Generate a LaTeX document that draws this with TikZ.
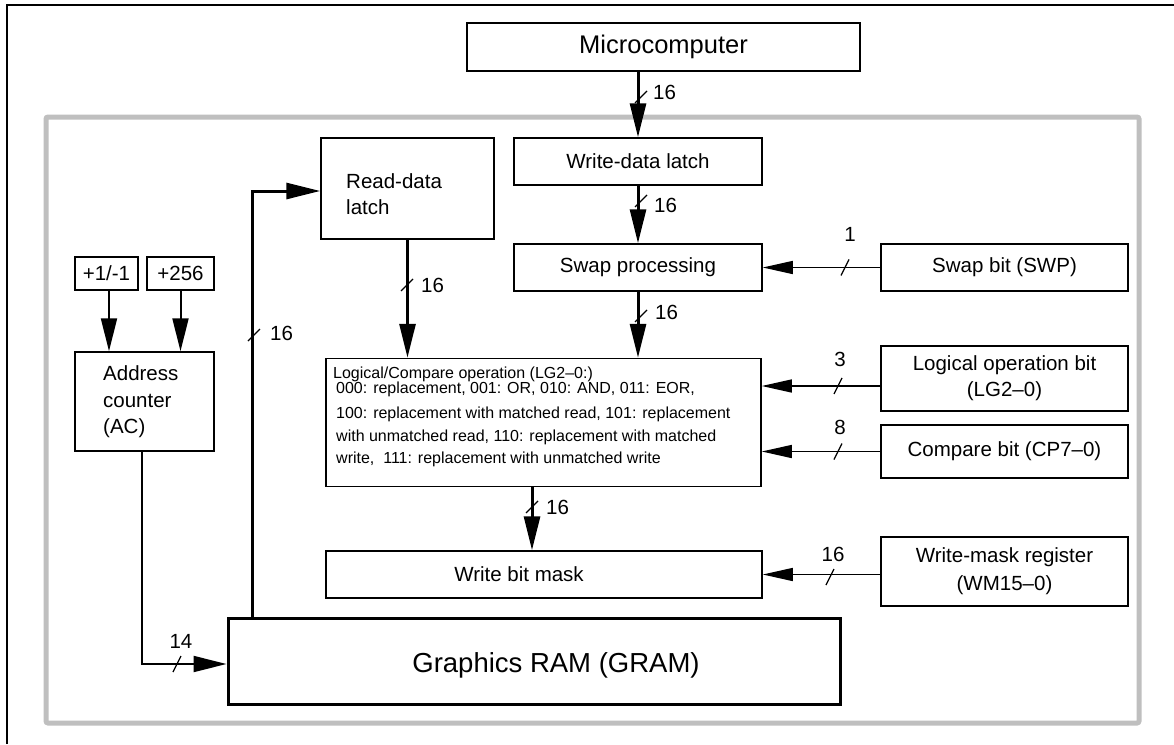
\documentclass[tikz,border=0pt]{standalone}
\usepackage{fontspec}
\setmainfont{Liberation Sans}
\usetikzlibrary{arrows.meta,calc}
\tikzset{
  box/.style={draw, line width=1.5pt, inner sep=0pt, font=\fontsize{20.5}{26}\selectfont},
  txt/.style={inner sep=0pt, font=\fontsize{20.5}{26}\selectfont},
  small/.style={inner sep=0pt, font=\fontsize{16}{20}\selectfont, anchor=base west},
  lbl/.style={inner sep=0pt, font=\fontsize{20.5}{24}\selectfont},
  bus/.style={line width=3pt, -{Triangle[length=34pt,width=16pt]}},
  sig/.style={line width=1.4pt, -{Triangle[length=30pt,width=13pt]}},
  mid/.style={line width=2pt, -{Triangle[length=33pt,width=16pt]}},
  vsl/.pic={\draw[line width=1.3pt] (-6,6) -- (6,-6);},
  hsl/.pic={\draw[line width=1.3pt] (-4,8) -- (4,-8);},
}
\begin{document}
\begin{tikzpicture}[x=1pt,y=-1pt]
\useasboundingbox (0,0) rectangle (1174,744);
\clip (0,0) rectangle (1174,744);
% outer frame
\draw[line width=2.6pt] (7,744) -- (7,5) -- (1174,5);
% gray frame
\draw[line width=5pt, black!25, rounded corners=2pt] (46,117) rectangle (1139,723);

% boxes
\node[box, line width=2pt, minimum width=393pt, minimum height=48pt, font=\fontsize{25.5}{30}\selectfont] (micro) at (663.5,47) {Microcomputer};
\node[box, minimum width=248pt, minimum height=47pt] (wdl) at (638,161.5) {Write-data latch};
\node[box, minimum width=173pt, minimum height=101pt] (rdl) at (407.5,188.5) {};
\node[txt, anchor=base west] (rdlt1) at (346,188) {Read-data};
\node[txt, anchor=base west] (rdlt2) at (346,214) {latch};
\node[box, minimum width=248pt, minimum height=47pt] (swp) at (638,267.5) {Swap processing};
\node[box, minimum width=247pt, minimum height=47pt] (swb) at (1004.5,267.5) {Swap bit (SWP)};
\node[box, minimum width=63pt, minimum height=33pt] (p1) at (106.5,273.5) {+1/-1};
\node[box, minimum width=67pt, minimum height=33pt] (p256) at (180.5,273.5) {+256};
\node[box, minimum width=139pt, minimum height=99pt] (ac) at (144.5,401.5) {};
\node[txt, anchor=base west] (act1) at (103,380) {Address};
\node[txt, anchor=base west] (act2) at (103,407) {counter};
\node[txt, anchor=base west] (act3) at (103,433) {(AC)};
\node[box, minimum width=435pt, minimum height=128pt] (log) at (543.5,422.5) {};
\node[small] (lt1) at (333,378) {Logical/Compare operation (LG2–0:)};
\node[small] (lt2) at (336,393) {000: replacement, 001: OR, 010: AND, 011: EOR,};
\node[small] (lt3) at (336,418) {100: replacement with matched read, 101: replacement};
\node[small] (lt4) at (336,441) {with unmatched read, 110: replacement with matched};
\node[small] (lt5) at (336,463) {write,\ \ 111: replacement with unmatched write};
\node[box, minimum width=247pt, minimum height=65pt, align=center] (lob) at (1004.5,378.5) {Logical operation bit\\(LG2–0)};
\node[box, minimum width=247pt, minimum height=53pt] (cpb) at (1004.5,451.5) {Compare bit (CP7–0)};
\node[box, minimum width=436pt, minimum height=47pt] (wbm) at (544,574.5) {};
\node[txt] (wbmt) at (519,574.5) {Write bit mask};
\node[box, minimum width=247pt, minimum height=69pt, align=center, font=\fontsize{20.5}{28}\selectfont] (wmr) at (1004.5,571.5) {Write-mask register\\(WM15–0)};
\node[box, line width=3pt, minimum width=612pt, minimum height=86pt] (gram) at (534,661) {};
\node[txt, font=\fontsize{27.5}{32}\selectfont] (gramt) at (556,665) {Graphics RAM (GRAM)};

% connectors
\draw[bus] (wdl.north |- micro.south) -- (wdl.north);
\draw[bus] (wdl.south) -- (swp.north);
\draw[bus] (swp.south) -- (swp.south |- log.north);
\draw[bus] (rdl.south) -- (rdl.south |- log.north);
\draw[bus] ([xshift=-11.5pt]log.south) -- ([xshift=-11.5pt]log.south |- wbm.north);
\draw[bus] ([xshift=26pt]gram.north west) |- ([yshift=-2.5pt]rdl.west);
\draw[sig] (swb.west) -- (swp.east);
\draw[sig] ([yshift=-7.5pt]lob.west) -- ([yshift=-7.5pt]lob.west -| log.east);
\draw[sig] (cpb.west) -- (cpb.west -| log.east);
\draw[sig] (wbm.east -| wmr.west) -- (wbm.east);
\draw[mid] ([xshift=2.5pt]p1.south) -- ([xshift=2.5pt]p1.south |- ac.north);
\draw[mid] (p256.south) -- (p256.south |- ac.north);
\draw[mid] ([xshift=-2.5pt]ac.south) |- ([yshift=-3pt]gram.west);

% bus width marks
\pic at (641,97) {vsl};   \node[lbl, anchor=west] (l1) at (653,92.5) {16};
\pic at (641,201) {vsl};  \node[lbl, anchor=west] (l2) at (654,205) {16};
\pic at (641,316) {vsl};  \node[lbl, anchor=west] (l3) at (655,312) {16};
\pic at (407,285) {vsl};  \node[lbl, anchor=west] (l4) at (421,285) {16};
\pic at (254,335) {vsl};  \node[lbl, anchor=west] (l5) at (270,333) {16};
\pic at (532,507) {vsl};  \node[lbl, anchor=west] (l6) at (546,507) {16};
\pic at (177,664) {hsl};  \node[lbl] (l7) at (181,641) {14};
\pic at (845,267.5) {hsl}; \node[lbl] (l8) at (850,234) {1};
\pic at (838,386) {hsl};  \node[lbl] (l9) at (840,359) {3};
\pic at (838,451.5) {hsl};  \node[lbl] (l10) at (840,427) {8};
\pic at (830,577) {hsl};  \node[lbl] (l11) at (833,554) {16};
\end{tikzpicture}
\end{document}
